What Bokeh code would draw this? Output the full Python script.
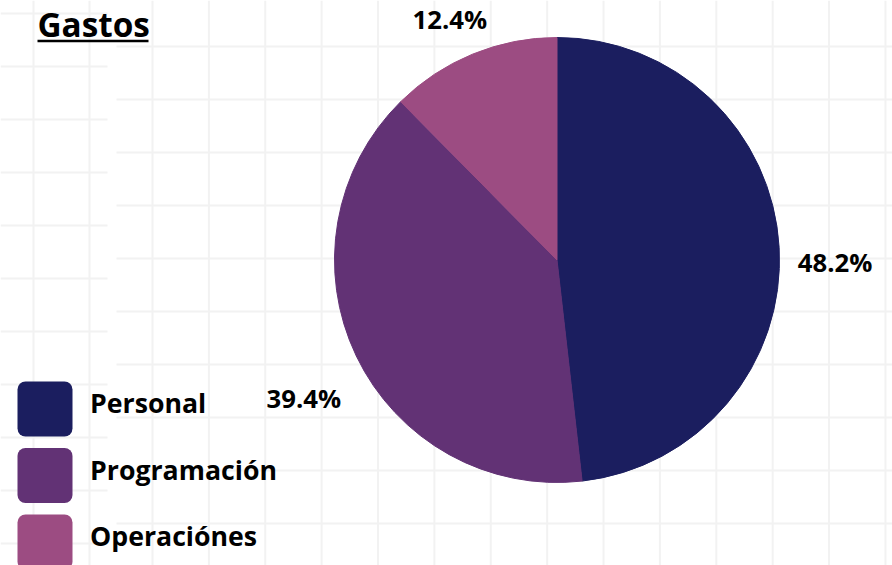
import numpy as np
from bokeh.plotting import figure
from bokeh.models import Range1d, BoxAnnotation, ColumnDataSource
from bokeh.core.properties import value
from bokeh.embed import file_html
from bokeh.resources import INLINE

# ---- data ----
title = "Gastos"
categories = ["Personal", "Programación", "Operaciónes"]
percentages = [48.2, 39.4, 12.4]
label_texts = ["48.2%", "39.4%", "12.4%"]
colors = ["#1b1e5f", "#623275", "#9c4c82"]

# ---- figure (1 data unit == 1 screen px) ----
W, H = 892, 565
p = figure(width=W, height=H, x_range=Range1d(0, W), y_range=Range1d(0, H),
           output_backend="svg", toolbar_location=None, min_border=0)
p.axis.visible = False
p.grid.visible = False
p.outline_line_color = None
p.background_fill_color = "white"
p.border_fill_color = "white"


def X(sx):
    return sx


def Y(sy):
    return H - sy


FONT = value("Open Sans")
GRID_COLOR = "#f2f2f2"

# ---- decorative background grid (two offset tiles) ----
gx, gy = [], []
for k in range(14):
    sx = 152 + 56.38 * k
    gx.append([X(sx), X(sx)]); gy.append([Y(0), Y(570)])
for k in range(11):
    sy = 46 + 53.0 * k
    gx.append([X(116), X(900)]); gy.append([Y(sy), Y(sy)])
for sx in (33, 89):
    gx.append([X(sx), X(sx)]); gy.append([Y(0), Y(570)])
for k in range(11):
    sy = 13 + 53.0 * k
    gx.append([X(0), X(107)]); gy.append([Y(sy), Y(sy)])
p.multi_line(xs=gx, ys=gy, line_color=GRID_COLOR, line_width=2)

# ---- pie ----
cx, cy, R = X(556.5), Y(259.5), 222.5
fr = np.array(percentages) / sum(percentages)
cum = np.concatenate([[0.0], np.cumsum(fr)])
start = np.pi / 2 - cum[:-1] * 2 * np.pi
end = np.pi / 2 - cum[1:] * 2 * np.pi
mid = (start + end) / 2
src = ColumnDataSource(dict(start=start, end=end, color=colors, cat=categories))
p.wedge(x=cx, y=cy, radius=R, start_angle="start", end_angle="end",
        direction="clock", fill_color="color", line_color="color",
        line_width=1, source=src)

# ---- percentage labels ----
RL = 279.5
lsrc = ColumnDataSource(dict(x=cx + RL * np.cos(mid), y=cy + RL * np.sin(mid),
                             t=label_texts))
p.text(x="x", y="y", text="t", source=lsrc, text_font=FONT,
       text_font_style="bold", text_font_size="25.7px", text_color="#000000",
       text_align="center", text_baseline="middle", x_offset=-1, y_offset=18)

# ---- title with underline ----
p.text(x=[X(37)], y=[Y(23)], text=[title], text_font=FONT,
       text_font_style="bold", text_font_size="33.3px", text_color="#000000",
       text_align="left", text_baseline="middle")
p.segment(x0=[X(37)], x1=[X(148)], y0=[Y(40.5)], y1=[Y(40.5)],
          line_color="#000000", line_width=2.5)

# ---- legend (rounded swatches + labels) ----
step = 66.5
box_top0 = 381
box = 55
leg_y = []
for i, c in enumerate(colors):
    top = box_top0 + step * i
    p.add_layout(BoxAnnotation(left=X(17), right=X(17 + box), top=Y(top),
                               bottom=Y(top + box), fill_color=c, fill_alpha=1.0,
                               line_color=None, border_radius=8, level="overlay"))
    leg_y.append(Y(top + box / 2 - 6.5))
p.text(x=[X(89.5)] * len(categories), y=leg_y, text=categories, text_font=FONT,
       text_font_style="bold", text_font_size="26.7px", text_color="#000000",
       text_align="left", text_baseline="middle")

open("out.html", "w").write(file_html(p, INLINE))
